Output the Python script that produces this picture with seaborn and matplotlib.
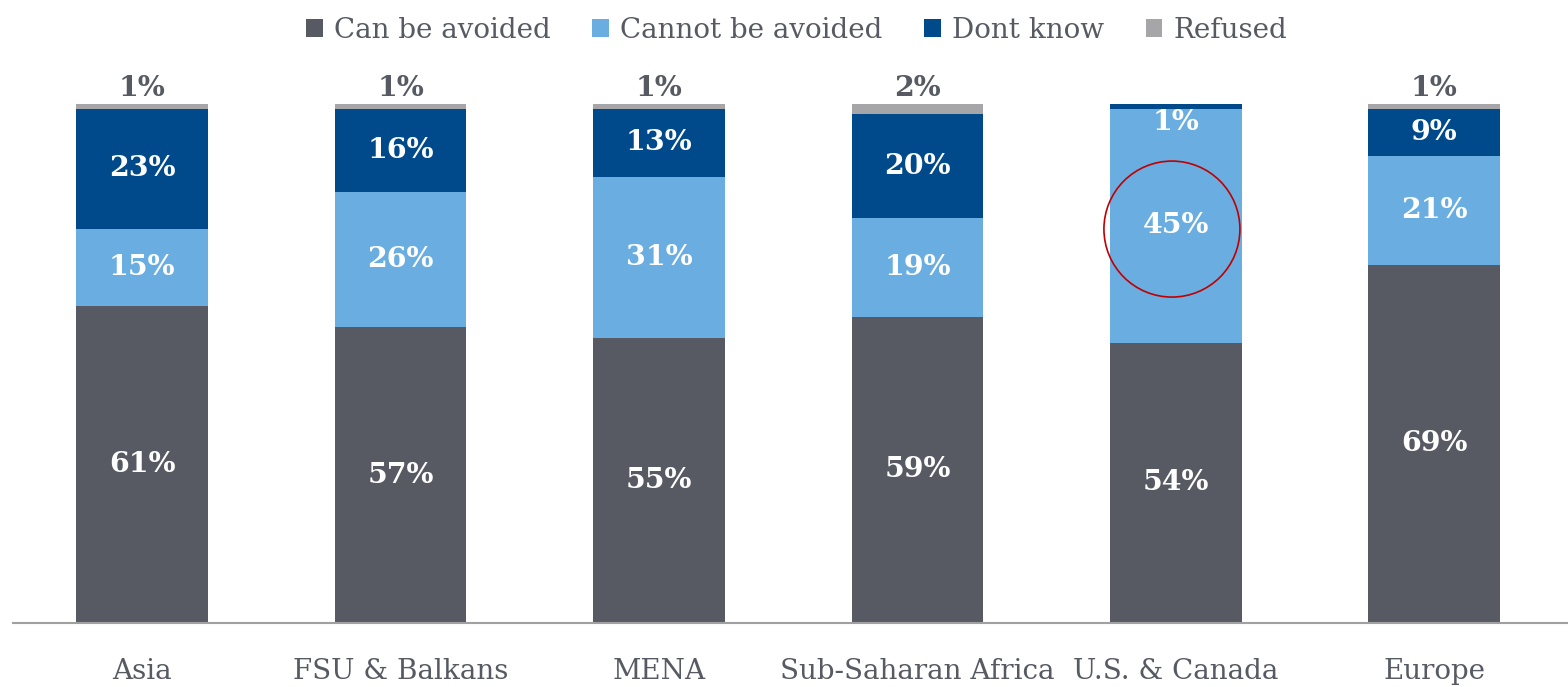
import numpy as np
import pandas as pd
import matplotlib
matplotlib.use("Agg")
import matplotlib.pyplot as plt
from matplotlib.patches import Patch, Ellipse
import seaborn as sns

regions = ["Asia", "FSU & Balkans", "MENA", "Sub-Saharan Africa", "U.S. & Canada", "Europe"]
can_avoid = [61, 57, 55, 59, 54, 69]
cannot_avoid = [15, 26, 31, 19, 45, 21]
dont_know = [23, 16, 13, 20, 1, 9]
refused = [1, 1, 1, 2, 0, 1]

series = ["Can be avoided", "Cannot be avoided", "Dont know", "Refused"]
colors = ["#575A63", "#6AADE0", "#004A8C", "#A6A6A9"]
text_col = "#575A63"

sns.set_style("white")
plt.rcParams["font.family"] = ["DejaVu Serif"]

df = pd.DataFrame({"region": regions, "Can be avoided": can_avoid,
                   "Cannot be avoided": cannot_avoid, "Dont know": dont_know,
                   "Refused": refused})
vals = df[series].to_numpy()
cum = vals.cumsum(axis=1)

fig = plt.figure(figsize=(15.68, 6.87), dpi=100)
ax = fig.add_axes([13 / 1568, 1 - 623 / 687, 1555 / 1568, 519 / 687])

# overlapping cumulative bars, tallest first
for j in reversed(range(len(series))):
    d = pd.DataFrame({"region": regions, "total": cum[:, j]})
    sns.barplot(data=d, x="region", y="total", color=colors[j], width=0.51,
                saturation=1, ax=ax, order=regions, linewidth=0)

ax.set_xlim(-0.5, 1555 / 258.4 - 0.5)
ax.set_ylim(0, 100)

for i in range(len(regions)):
    bottom = 0
    for j in range(3):
        v = vals[i, j]
        y = bottom + v / 2
        if regions[i] == "U.S. & Canada" and j == 2:
            y = 96.5
        ax.text(i, y, f"{v}%", ha="center", va="center", color="white",
                fontsize=20.5, fontweight="bold")
        bottom += v
    if vals[i, 3] > 0:
        ax.text(i, 103.0, f"{vals[i, 3]}%", ha="center", va="center",
                color=text_col, fontsize=20.5, fontweight="bold", clip_on=False)

# highlight circle
ax.add_patch(Ellipse((3.985, 75.9), 136 / 258.4, 136 / 5.19, fill=False,
                     edgecolor="#C00000", linewidth=1.2))

for s in ["top", "right", "left"]:
    ax.spines[s].set_visible(False)
ax.spines["bottom"].set_color("#A0A0A0")
ax.spines["bottom"].set_linewidth(1.5)
ax.set_yticks([])
ax.set_xlabel("")
ax.set_ylabel("")
ax.tick_params(axis="x", length=0, pad=25, labelsize=20, labelcolor=text_col)

handles = [Patch(facecolor=c, edgecolor="none", label=s) for s, c in zip(series, colors)]
leg = fig.legend(handles=handles, loc="upper center", bbox_to_anchor=(0.508, 1.012),
                 ncol=4, frameon=False, fontsize=20, handlelength=0.6,
                 handleheight=0.6, handletextpad=0.4, columnspacing=1.5)
for t in leg.get_texts():
    t.set_color(text_col)

fig.savefig("out.png", dpi=100)
